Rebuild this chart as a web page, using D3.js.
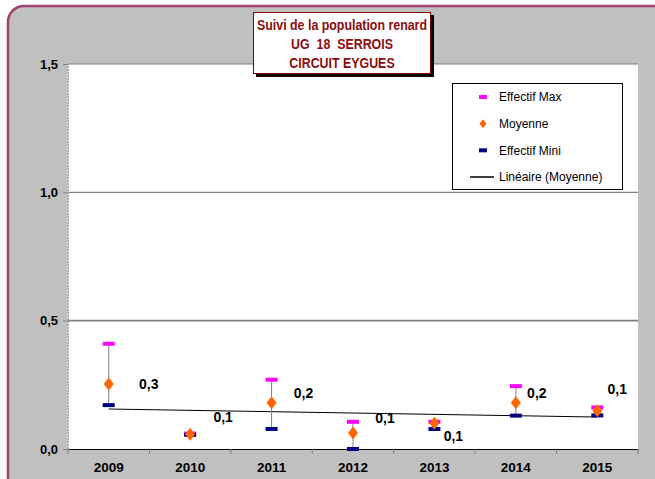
<!DOCTYPE html>
<html lang="fr">
<head>
<meta charset="UTF-8">
<title>Suivi de la population renard</title>
<script src="https://cdn.jsdelivr.net/npm/d3@7"></script>
<style>
    html, body { margin: 0; padding: 0; background: #fff; }
    svg text { font-family: "Liberation Sans", Arial, sans-serif; }
</style>
</head>
<body>
<svg id="chart" width="655" height="479"></svg>
<script>
    // valeurs
    const years = ["2009", "2010", "2011", "2012", "2013", "2014", "2015"];
    const effectifMax = [0.41, 0.06, 0.27, 0.106, 0.106, 0.245, 0.162];
    const moyenne = [0.253, 0.057, 0.18, 0.062, 0.10, 0.18, 0.149];
    const effectifMini = [0.171, 0.055, 0.078, 0.0, 0.078, 0.13, 0.131];
    const yTicks = [0, 0.5, 1.0, 1.5];
    const titleLines = ["Suivi de la population renard", "UG  18  SERROIS", "CIRCUIT EYGUES"];
    const legendLabels = ["Effectif Max", "Moyenne", "Effectif Mini", "Linéaire (Moyenne)"];
    // decalage des etiquettes (dx, dy) par rapport au point moyen
    const labelOffsets = [[40, 0], [33, -17], [32, -10], [32, -15], [19, 13], [21, -10], [20, -22]];

    const fmt = v => d3.format(".1f")(v).replace(".", ",");

    const svg = d3.select("#chart");

    // fond gris avec bord arrondi
    svg.append("rect")
        .attr("x", 8).attr("y", 6)
        .attr("width", 700).attr("height", 520)
        .attr("rx", 16).attr("ry", 16)
        .attr("fill", "#c0c0c0")
        .attr("stroke", "#a3406e")
        .attr("stroke-width", 2.5);

    const plot = {left: 68, top: 64, right: 638, bottom: 449};

    svg.append("rect")
        .attr("x", plot.left).attr("y", plot.top)
        .attr("width", plot.right - plot.left).attr("height", plot.bottom - plot.top)
        .attr("fill", "#fff");

    const x = d3.scaleBand().domain(years).range([plot.left, plot.right]);
    const y = d3.scaleLinear().domain([0, 1.5]).range([plot.bottom, plot.top]);

    // grille
    svg.append("g").selectAll("line")
        .data(yTicks.filter(d => d > 0))
        .join("line")
        .attr("x1", plot.left).attr("x2", plot.right)
        .attr("y1", d => y(d)).attr("y2", d => y(d))
        .attr("stroke", "#808080").attr("stroke-width", d => d === 0.5 ? 1.6 : 1.2);

    // axe Y
    const yAxis = svg.append("g")
        .attr("transform", `translate(${plot.left},0)`)
        .call(d3.axisLeft(y).tickValues(yTicks).tickSize(5).tickPadding(5).tickFormat(fmt));
    yAxis.select(".domain").attr("stroke", "#a0a0a0").attr("stroke-dasharray", "2,1");
    yAxis.selectAll(".tick line").attr("stroke", "#808080");
    yAxis.selectAll("text")
        .attr("font-size", 13).attr("font-weight", "bold").attr("fill", "#000")
        .style("font-family", "'Liberation Sans', Arial, sans-serif");

    // axe X
    const xAxis = svg.append("g")
        .attr("transform", `translate(0,${plot.bottom})`)
        .call(d3.axisBottom(x).tickSize(0).tickPadding(13));
    xAxis.select(".domain").attr("stroke", "#000");
    xAxis.selectAll("text")
        .attr("font-size", 13.5).attr("font-weight", "bold").attr("fill", "#000")
        .style("font-family", "'Liberation Sans', Arial, sans-serif");
    const bounds = years.map(d => x(d)).concat([x(years[years.length - 1]) + x.bandwidth()]);
    xAxis.selectAll(".bound")
        .data(bounds)
        .join("line")
        .attr("class", "bound")
        .attr("x1", d => d).attr("x2", d => d)
        .attr("y1", 0).attr("y2", 5)
        .attr("stroke", "#808080");

    const cx = d => x(d) + x.bandwidth() / 2;

    // droite de tendance (regression lineaire sur la moyenne)
    const xs = years.map((d, i) => i + 1);
    const mx = d3.mean(xs), my = d3.mean(moyenne);
    const slope = d3.sum(xs, (v, i) => (v - mx) * (moyenne[i] - my)) / d3.sum(xs, v => (v - mx) * (v - mx));
    const icpt = my - slope * mx;
    svg.append("line")
        .attr("x1", cx(years[0])).attr("y1", y(icpt + slope * xs[0]))
        .attr("x2", cx(years[years.length - 1])).attr("y2", y(icpt + slope * xs[xs.length - 1]))
        .attr("stroke", "#000").attr("stroke-width", 1);

    // barres d'erreur
    const pts = svg.append("g").selectAll("g")
        .data(years)
        .join("g");

    pts.append("line")
        .attr("x1", d => cx(d)).attr("x2", d => cx(d))
        .attr("y1", (d, i) => y(effectifMax[i]))
        .attr("y2", (d, i) => y(effectifMini[i]))
        .attr("stroke", "#808080").attr("stroke-width", 1);

    pts.append("rect")
        .attr("x", d => cx(d) - 6).attr("y", (d, i) => y(effectifMax[i]) - 2)
        .attr("width", 12).attr("height", 4)
        .attr("fill", "#ff00ff");

    pts.append("rect")
        .attr("x", d => cx(d) - 6).attr("y", (d, i) => y(effectifMini[i]) - 2)
        .attr("width", 12).attr("height", 4)
        .attr("fill", "#000080");

    const diamond = "M0,-6.5L5,0L0,6.5L-5,0Z";
    pts.append("path")
        .attr("d", diamond)
        .attr("transform", (d, i) => `translate(${cx(d)},${y(moyenne[i])})`)
        .attr("fill", "#ff6600");

    pts.append("text")
        .attr("x", (d, i) => cx(d) + labelOffsets[i][0])
        .attr("y", (d, i) => y(moyenne[i]) + labelOffsets[i][1])
        .attr("dy", "0.35em")
        .attr("text-anchor", "middle")
        .attr("font-size", 14).attr("font-weight", "bold")
        .text((d, i) => fmt(moyenne[i]));

    // legende
    const lg = svg.append("g");
    lg.append("rect")
        .attr("x", 452.5).attr("y", 83.5).attr("width", 170).attr("height", 106)
        .attr("fill", "#fff").attr("stroke", "#000").attr("stroke-width", 1);
    const rowY = d3.scalePoint().domain(legendLabels).range([97, 177]);
    lg.selectAll("text")
        .data(legendLabels)
        .join("text")
        .attr("x", 499).attr("y", d => rowY(d)).attr("dy", "0.35em")
        .attr("font-size", 12).attr("fill", "#000")
        .text(d => d);
    lg.append("rect").attr("x", 479).attr("y", rowY(legendLabels[0]) - 2).attr("width", 8).attr("height", 4).attr("fill", "#ff00ff");
    lg.append("path").attr("d", "M0,-4.5L3.5,0L0,4.5L-3.5,0Z")
        .attr("transform", `translate(483,${rowY(legendLabels[1])})`).attr("fill", "#ff6600");
    lg.append("rect").attr("x", 479).attr("y", rowY(legendLabels[2]) - 2).attr("width", 8).attr("height", 4).attr("fill", "#000080");
    lg.append("line").attr("x1", 470).attr("x2", 494)
        .attr("y1", rowY(legendLabels[3])).attr("y2", rowY(legendLabels[3]))
        .attr("stroke", "#000").attr("stroke-width", 1.5);

    // titre
    const tg = svg.append("g");
    tg.append("rect").attr("x", 256).attr("y", 15).attr("width", 178).attr("height", 62).attr("fill", "#000");
    tg.append("rect").attr("x", 253.5).attr("y", 12.5).attr("width", 177).attr("height", 61)
        .attr("fill", "#fff").attr("stroke", "#800000").attr("stroke-width", 1);
    const titles = tg.selectAll("text")
        .data(titleLines)
        .join("text")
        .attr("x", 342).attr("y", (d, i) => 25 + i * 19).attr("dy", "0.35em")
        .attr("text-anchor", "middle")
        .attr("font-size", 14).attr("font-weight", "bold").attr("fill", "#8b0d0d")
        .style("font-family", "'Liberation Sans', Arial, sans-serif")
        .style("white-space", "pre")
        .text(d => d);
    // police etroite (type Calibri) : on resserre le texte pour que la 1re ligne fasse ~170px
    const k = 170 / titles.node().getComputedTextLength();
    titles.each(function () {
        const w = this.getComputedTextLength();
        d3.select(this).attr("textLength", w * k).attr("lengthAdjust", "spacingAndGlyphs");
    });
</script>
</body>
</html>
